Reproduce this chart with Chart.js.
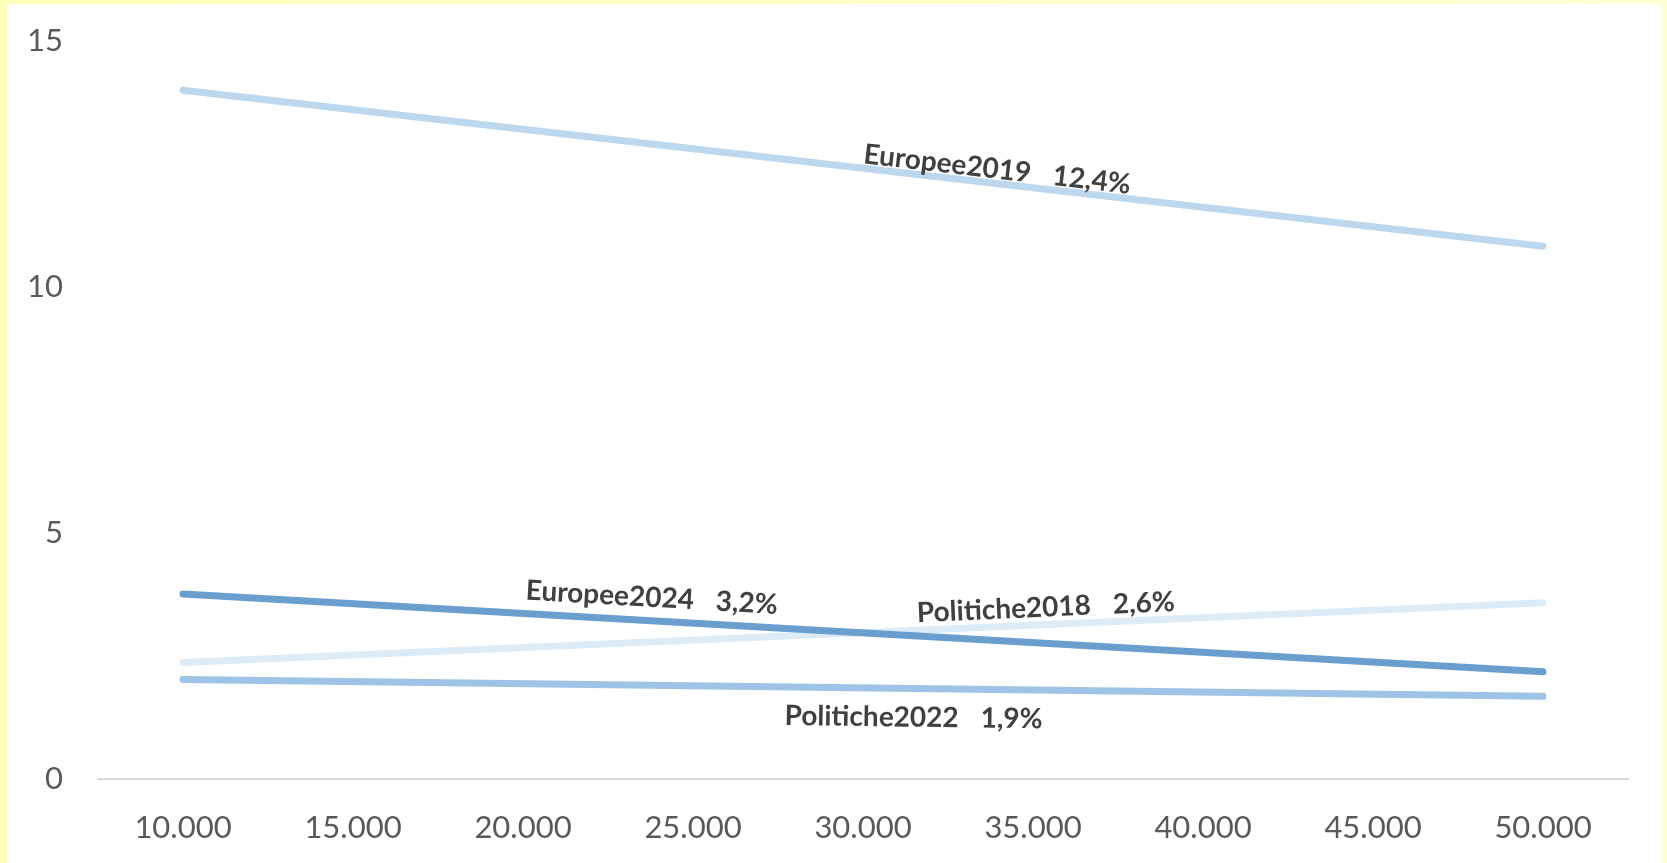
<!DOCTYPE html>
<html>
<head>
<meta charset="utf-8">
<script src="https://cdn.jsdelivr.net/npm/chart.js@4/dist/chart.umd.min.js"></script>
<style>
  html, body { margin: 0; padding: 0; width: 1667px; height: 863px; overflow: hidden;
    background: linear-gradient(to right, #FFFFB8, #FFFFD4); }
  #wrap { position: absolute; left: 7px; top: 4px; width: 1654px; height: 859px; background: #FFFFFF; }
  canvas { display: block; }
</style>
</head>
<body>
<div id="wrap"><canvas id="c" width="1654" height="859"></canvas></div>
<script>
// ---- data (only endpoints of each straight line are known) ----
const categories = ['10.000', '15.000', '20.000', '25.000', '30.000', '35.000', '40.000', '45.000', '50.000'];
const seriesNames = ['Europee2019', 'Europee2024', 'Politiche2018', 'Politiche2022'];
const europee2019   = [14.0, null, null, null, null, null, null, null, 10.83];
const europee2024   = [3.76, null, null, null, null, null, null, null, 2.18];
const politiche2018 = [2.37, null, null, null, null, null, null, null, 3.58];
const politiche2022 = [2.02, null, null, null, null, null, null, null, 1.68];
const labelValues   = ['12,4%', '3,2%', '2,6%', '1,9%'];
const yTicks = [0, 5, 10, 15];

// ---- label placement (category index along line, perpendicular offset px) ----
const labelPlacement = [
  { ds: 0, at: 4.78, off: -14 },
  { ds: 1, at: 2.75, off: -23 },
  { ds: 2, at: 5.08, off: -17 },
  { ds: 3, at: 4.30, off: 29 }
];

const colors = ['#BDD7EE', '#6A9ECE', '#DDEBF7', '#9DC3E6'];
const seriesData = [europee2019, europee2024, politiche2018, politiche2022];

const lineLabels = {
  id: 'lineLabels',
  afterDatasetsDraw(chart) {
    const ctx = chart.ctx;
    const xs = chart.scales.x, ys = chart.scales.y;
    ctx.save();
    ctx.font = 'bold 28px Lato';
    ctx.fillStyle = '#404040';
    ctx.textBaseline = 'middle';
    ctx.textAlign = 'left';
    labelPlacement.forEach(p => {
      const d = chart.data.datasets[p.ds].data;
      const x0 = xs.getPixelForValue(0), x1 = xs.getPixelForValue(d.length - 1);
      const y0 = ys.getPixelForValue(d[0]), y1 = ys.getPixelForValue(d[d.length - 1]);
      const px = xs.getPixelForValue(p.at);
      const t = (px - x0) / (x1 - x0);
      const py = y0 + t * (y1 - y0);
      const ang = Math.atan2(y1 - y0, x1 - x0);
      const name = seriesNames[p.ds], val = labelValues[p.ds];
      const wN = ctx.measureText(name).width, wV = ctx.measureText(val).width, g = 22;
      const tot = wN + g + wV;
      ctx.save();
      ctx.translate(px, py);
      ctx.rotate(ang);
      ctx.translate(0, p.off);
      ctx.fillText(name, -tot / 2, 0);
      ctx.fillText(val, -tot / 2 + wN + g, 0);
      ctx.restore();
    });
    ctx.restore();
  }
};

new Chart(document.getElementById('c'), {
  type: 'line',
  data: {
    labels: categories,
    datasets: seriesNames.map((n, i) => ({
      label: n,
      data: seriesData[i],
      borderColor: colors[i],
      backgroundColor: colors[i],
      borderWidth: 7,
      borderCapStyle: 'round',
      pointRadius: 0,
      pointHoverRadius: 0,
      spanGaps: true,
      tension: 0,
      fill: false
    }))
  },
  options: {
    responsive: false,
    animation: false,
    devicePixelRatio: 1,
    layout: { padding: { top: 37, right: 33, bottom: 0, left: 0 } },
    plugins: { legend: { display: false }, tooltip: { enabled: false } },
    scales: {
      x: {
        type: 'category',
        offset: true,
        grid: { display: false, drawTicks: false },
        border: { display: true, color: '#D9D9D9', width: 2 },
        ticks: { font: { family: 'Lato', size: 31 }, color: '#595959', padding: 30, maxRotation: 0, autoSkip: false },
        afterFit(s) { s.height = 84; }
      },
      y: {
        min: 0, max: 15,
        afterBuildTicks(s) { s.ticks = yTicks.map(v => ({ value: v })); },
        grid: { display: false, drawTicks: false },
        border: { display: false },
        ticks: { font: { family: 'Lato', size: 31 }, color: '#595959', padding: 35 },
        afterFit(s) { s.width = 91; s.paddingTop = 0; s.paddingBottom = 0; }
      }
    }
  },
  plugins: [lineLabels]
});
</script>
</body>
</html>
